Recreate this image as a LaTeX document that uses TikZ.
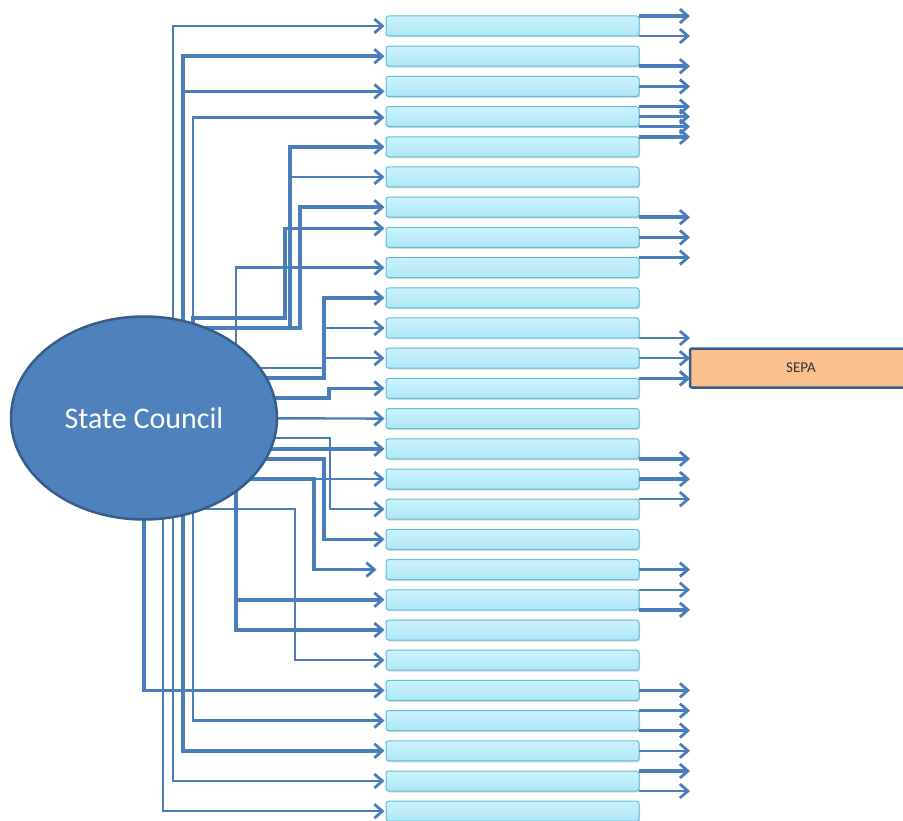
\documentclass[tikz,border=0pt]{standalone}
\usepackage{fontspec}
\setmainfont{Carlito}
\usetikzlibrary{arrows.meta,shadows,backgrounds,shapes.geometric}
\definecolor{linkblue}{HTML}{4A7EBB}
\definecolor{councilfill}{HTML}{4F81BD}
\definecolor{councilline}{HTML}{385D8A}
\definecolor{bartop}{HTML}{CDF2FB}
\definecolor{barbot}{HTML}{AEE7F6}
\definecolor{barline}{HTML}{5FBED8}
\definecolor{sepafill}{HTML}{FAC090}

\begin{document}
\begin{tikzpicture}[x=1pt,y=-1pt,
  bar/.style={draw=barline, line width=1pt, rounded corners=2.5pt,
    top color=bartop, bottom color=barbot, minimum width=253pt,
    minimum height=20pt, inner sep=0pt, outer sep=0pt,
    drop shadow={shadow xshift=1pt,shadow yshift=-1.5pt,opacity=0.3}},
  link/.style={draw=linkblue, line width=2.4pt,
    -{Straight Barb[length=8pt,width=14pt,line width=2.8pt]}, shorten >=1.5pt},
  heavy/.style={link, line width=3.6pt},
  outlink/.style={draw=linkblue, line width=2.4pt,
    -{Straight Barb[length=8pt,width=14pt,line width=2.8pt]}},
  outheavy/.style={outlink, line width=3.6pt}]
\useasboundingbox (0,0) rectangle (903,821);
\clip (0,0) rectangle (903,821);

\node[ellipse, draw=councilline, line width=2.5pt, fill=councilfill,
  minimum width=266pt, minimum height=203pt, inner sep=0pt,
  text=white, font=\fontsize{30}{34}\selectfont] (sc) at (144,418) {State Council};

\foreach \i in {1,...,27}
  \node[bar] (b\i) at (512.5,{26+30.2*(\i-1)}) {};

\node[draw=councilline, line width=2.5pt, fill=sepafill, rounded corners=2pt,
  minimum width=222pt, minimum height=39pt, inner sep=0pt, outer sep=0pt,
  text=black!80, font=\fontsize{15}{17}\selectfont] (sepa) at (801,368) {SEPA};
\coordinate (outx) at (690,0);

\begin{scope}[on background layer]
% upper trunks
\draw[link] (sc.center) ++(29,0) |- (b1.west);
\draw[heavy] (sc.center) ++(39,0) |- (b2.west);
\draw[link] (sc.center) ++(39,0) |- ([shift={(0,5)}]b3.west);
\draw[link] (sc.center) ++(49,0) |- ([shift={(0,1)}]b4.west);
\draw[heavy] (sc.center) ++(0,-90) -- ++(146,0) |- (b5.west);
\draw[link] (sc.center) ++(0,-90) -- ++(146,0) |- (b6.west);
\draw[heavy] (sc.center) ++(0,-90) -- ++(156,0) |- (b7.west);
\draw[heavy] (sc.center) ++(49,0) |- ++(92,-100) |- ([shift={(0,-9)}]b8.west);
\draw[link] (sc.center) ++(92,0) |- (b9.west);
\draw[heavy] (sc.center) ++(0,-40) -- ++(180,0) |- (b10.west);
\draw[link] (sc.center) ++(0,-50) -- ++(180,0) |- (b11.west);
\draw[link] (sc.center) ++(0,-40) -- ++(180,0) |- (b12.west);
\draw[heavy] (sc.center) ++(0,-20) -- ++(185,0) |- (b13.west);
% straight and lower branches
\draw[link] (sc.center) -- (b14.west);
\draw[heavy] (b15.west -| sc.center) -- (b15.west);
\draw[link] (b16.west -| sc.center) -- (b16.west);
\draw[link] (sc.center) ++(0,20) -- ++(186,0) |- (b17.west);
\draw[heavy] (sc.center) ++(0,41) -- ++(180,0) |- (b18.west);
\draw[heavy] (b16.west -| sc.center) -- ++(170,0) |- ([shift={(-8,0)}]b19.west);
\draw[heavy] (sc.center) ++(92,0) |- (b20.west);
\draw[heavy] (sc.center) ++(92,0) |- (b21.west);
\draw[link] (sc.center) ++(0,91) -- ++(151,0) |- (b22.west);
\draw[heavy] (sc.center) |- (b23.west);
\draw[link] (sc.center) ++(49,0) |- (b24.west);
\draw[heavy] (sc.center) ++(39,0) |- (b25.west);
\draw[link] (sc.center) ++(29,0) |- (b26.west);
\draw[link] (sc.center) ++(19,0) |- (b27.west);
\end{scope}

% outgoing arrows
\foreach \i/\a in {1/north east,2/south east,3/east,4/north east,4/east,5/north east,
    7/south east,8/east,13/north east,15/south east,16/east,20/south east,
    23/east,24/north east,26/north east}
  \draw[outheavy] (b\i.\a) -- (b\i.\a -| outx);
\foreach \i/\a in {1/south east,4/south east,9/north east,11/south east,17/north east,
    19/east,20/north east,24/south east,25/east,26/south east}
  \draw[outlink] (b\i.\a) -- (b\i.\a -| outx);
\draw[outlink] (b12.east) -- (b12.east -| sepa.west);
\draw[outheavy] (b13.north east) -- (b13.north east -| sepa.west);
\end{tikzpicture}
\end{document}
